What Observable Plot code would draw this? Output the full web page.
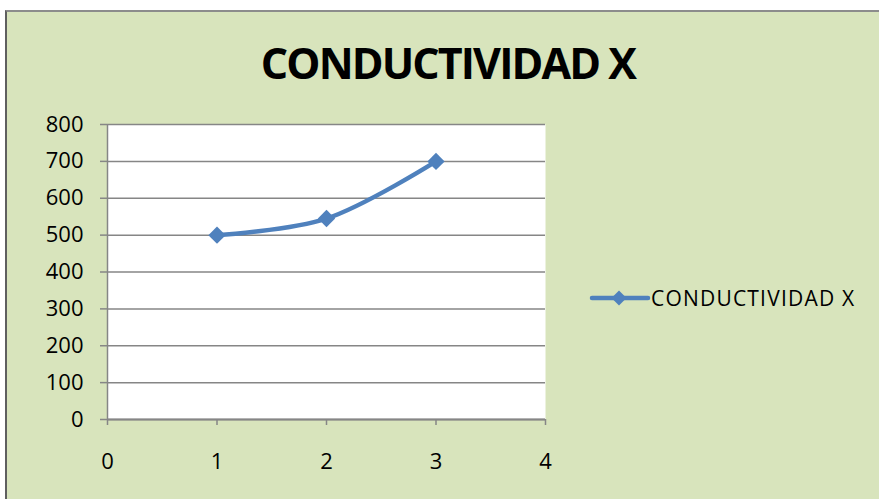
<!DOCTYPE html>
<html>
<head>
<meta charset="utf-8">
<script src="https://cdn.jsdelivr.net/npm/d3@7"></script>
<script src="https://cdn.jsdelivr.net/npm/@observablehq/plot@0.6"></script>
<style>
  html, body { margin: 0; padding: 0; background: #ffffff; }
  #wrap { position: relative; width: 879px; height: 499px; overflow: hidden; background: #ffffff; }
  #panel { position: absolute; left: 5px; top: 10px; width: 890px; height: 500px; background: #D8E4BC;
           border-left: 2px solid #5f5f5f; border-top: 2px solid #8c8c8c; box-sizing: border-box; }
  #title { position: absolute; left: 0; width: 896px; top: 33px; text-align: center;
           font-family: "Open Sans", sans-serif; font-weight: 700; font-size: 43px; color: #000;
           letter-spacing: -1.9px; line-height: 60px; }
  #chart { position: absolute; left: 0; top: 100px; }
  #legend { position: absolute; left: 590px; top: 284px; display: flex; align-items: center;
            font-family: "Open Sans", sans-serif; font-size: 21px; letter-spacing: 1.2px; color: #000; }
</style>
</head>
<body>
<div id="wrap">
  <div id="panel"></div>
  <div id="title"></div>
  <div id="chart"></div>
  <div id="legend"></div>
</div>
<script>
const seriesName = "CONDUCTIVIDAD X";
const xValues = [1, 2, 3];
const yValues = [500, 545, 700];
const xTicks = [0, 1, 2, 3, 4];
const yTicks = [0, 100, 200, 300, 400, 500, 600, 700, 800];
const lineColor = "#4F81BD";
const gridColor = "#868686";

const data = xValues.map((x, i) => ({x, y: yValues[i]}));

document.getElementById("title").textContent = seriesName;

const chart = Plot.plot({
  width: 600,
  height: 370,
  marginLeft: 107,
  marginRight: 55,
  marginTop: 24,
  marginBottom: 51,
  style: {background: "transparent", fontFamily: "Open Sans, sans-serif", fontSize: "22px", overflow: "visible"},
  x: {domain: [0, 4]},
  y: {domain: [0, 800]},
  marks: [
    Plot.frame({fill: "white", stroke: "none"}),
    Plot.ruleY(yTicks, {stroke: gridColor, strokeWidth: 1.5}),
    Plot.ruleX([0], {stroke: gridColor, strokeWidth: 1.5}),
    Plot.ruleY([0], {stroke: gridColor, strokeWidth: 2}),
    Plot.axisY({ticks: yTicks, tickSize: 7, tickPadding: 17, stroke: gridColor, fill: "#000", fontSize: 22, label: null, strokeWidth: 1.5, tickFormat: "d"}),
    Plot.axisX({ticks: xTicks, tickSize: 6, tickPadding: 28, stroke: gridColor, fill: "#000", fontSize: 22, label: null, strokeWidth: 1.5, tickFormat: "d"}),
    Plot.line(data, {x: "x", y: "y", stroke: lineColor, strokeWidth: 4.5, curve: "catmull-rom"}),
    Plot.dot(data, {x: "x", y: "y", symbol: "diamond2", r: 7.8, fill: lineColor, stroke: "none"})
  ]
});
document.getElementById("chart").appendChild(chart);

const legend = document.getElementById("legend");
legend.innerHTML = `<svg width="60" height="28" style="overflow:visible">
  <line x1="2" y1="14" x2="58" y2="14" stroke="${lineColor}" stroke-width="4.5" stroke-linecap="round"></line>
  <polygon points="29,6.5 36.5,14 29,21.5 21.5,14" fill="${lineColor}"></polygon>
</svg><span style="margin-left:1px">${seriesName}</span>`;
</script>
</body>
</html>
